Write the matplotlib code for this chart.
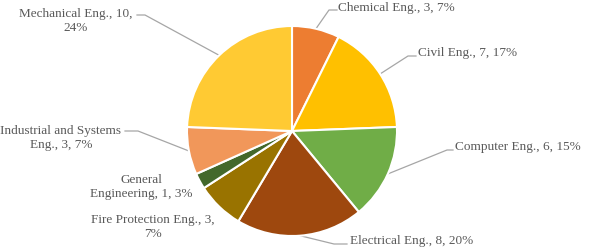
import numpy as np
import matplotlib.pyplot as plt

plt.rcParams['font.family'] = 'Liberation Serif'

# data
departments = ['Chemical Eng.', 'Civil Eng.', 'Computer Eng.', 'Electrical Eng.',
               'Fire Protection Eng.', 'General Engineering',
               'Industrial and Systems Eng.', 'Mechanical Eng.']
counts = [3, 7, 6, 8, 3, 1, 3, 10]
label_texts = ['Chemical Eng., 3, 7%', 'Civil Eng., 7, 17%', 'Computer Eng., 6, 15%',
               'Electrical Eng., 8, 20%', 'Fire Protection Eng., 3,\n7%',
               'General\nEngineering, 1, 3%', 'Industrial and Systems\nEng., 3, 7%',
               'Mechanical Eng., 10,\n24%']
colors = ['#ED7D31', '#FFC000', '#70AD47', '#9E480E', '#997300', '#43682B',
          '#F1975A', '#FFCA33']

# layout (pixels of the 589x252 image)
W, H = 589, 252
cx, cy, R = 292, 131, 105

def to_data(px, py):
    return (px - cx) / R, (cy - py) / R

# text anchor (px, py, ha), leader elbow point (px, py) or None
label_pos = [
    (338, 8, 'left', (329, 10), (337, 10)),
    (418, 53, 'left', (408, 56), (416, 56)),
    (455, 147, 'left', (447, 150), (453, 150)),
    (350, 241, 'left', (334, 244), (347, 244)),
    (153, 227, 'center', None, None),
    (141, 187, 'center', None, None),
    (61, 138, 'center', (138, 131), (125, 131)),
    (76, 21, 'center', (145, 15), (137, 15)),
]

fig = plt.figure(figsize=(W / 100, H / 100), dpi=100)
ax = fig.add_axes([0, 0, 1, 1])

wedges, _ = ax.pie(counts, colors=colors, startangle=90, counterclock=False,
                   radius=1, wedgeprops=dict(edgecolor='white', linewidth=1.5))

for w, txt, (tx, ty, ha, elbow, near) in zip(wedges, label_texts, label_pos):
    x, y = to_data(tx, ty)
    ax.text(x, y, txt, ha=ha, va='center', multialignment='center',
            fontsize=9.5, color='#595959')
    if elbow is not None:
        mid = np.deg2rad((w.theta1 + w.theta2) / 2)
        ex, ey = to_data(*elbow)
        nx, ny = to_data(*near)
        ax.plot([np.cos(mid), ex, nx], [np.sin(mid), ey, ny],
                color='#A6A6A6', linewidth=0.9, zorder=0)

ax.set_xlim(-cx / R, (W - cx) / R)
ax.set_ylim(-(H - cy) / R, cy / R)
ax.set_aspect('equal')
ax.axis('off')

plt.savefig('out.png', dpi=100)
